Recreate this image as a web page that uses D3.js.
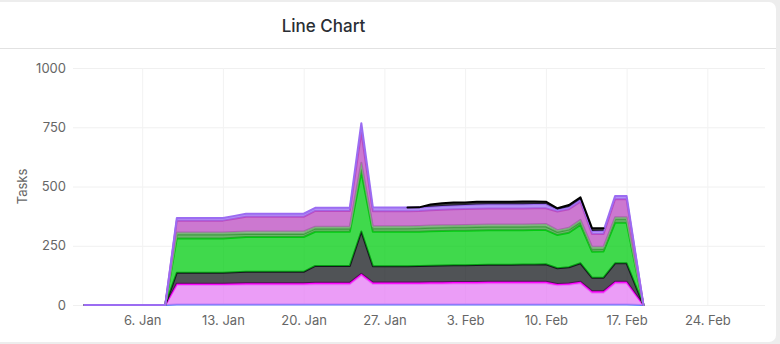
<!DOCTYPE html>
<html><head><meta charset="utf-8">
<script src="https://cdn.jsdelivr.net/npm/d3@7"></script>
<style>
html,body{margin:0;padding:0;background:#ededed;}
svg{display:block;}
</style></head><body>
<svg id="c" width="780" height="344"></svg>
<script>
// ---- data ----
const dates = [
"2025-01-01","2025-01-02","2025-01-03","2025-01-04","2025-01-05","2025-01-06","2025-01-07","2025-01-08",
"2025-01-09","2025-01-10","2025-01-11","2025-01-12","2025-01-13","2025-01-14","2025-01-15","2025-01-16",
"2025-01-17","2025-01-18","2025-01-19","2025-01-20","2025-01-21","2025-01-22","2025-01-23","2025-01-24",
"2025-01-25","2025-01-26","2025-01-27","2025-01-28","2025-01-29","2025-01-30","2025-01-31","2025-02-01",
"2025-02-02","2025-02-03","2025-02-04","2025-02-05","2025-02-06","2025-02-07","2025-02-08","2025-02-09",
"2025-02-10","2025-02-11","2025-02-12","2025-02-13","2025-02-14","2025-02-15","2025-02-16","2025-02-17",
"2025-02-18T11:00"];

const blueVals    = [0,0,0,0,0,0,0,0, 2,2,2,2,2,2,2,2, 2,2,2,2,2,2,2,2, 2,2,2,2,2,2,2,2, 2,2,2,2,2,2,2,2, 2,2,2,2,2,2,2,2, 0];
const pinkVals    = [0,0,0,0,0,0,0,0, 82,82,82,82,82,83,84,84, 84,84,84,84,86,86,86,86, 124,87,87,87,87,87,88,88, 89,89,89,90,90,90,90,90, 90,81,83,90,50,50,90,90, 0];
const magentaVals = [0,0,0,0,0,0,0,0, 6,6,6,6,6,6,6,6, 6,6,6,6,6,6,6,6, 6,6,6,6,6,6,6,6, 6,6,6,6,6,6,6,6, 6,6,6,6,6,6,6,6, 0];
const grayVals    = [0,0,0,0,0,0,0,0, 46,46,46,46,46,47,48,48, 48,48,48,48,71,71,71,71, 178,69,69,69,69,70,70,71, 71,71,72,72,72,72,73,73, 74,66,68,78,57,57,78,78, 0];
const greenVals   = [0,0,0,0,0,0,0,0, 145,145,145,145,145,146,147,147, 147,147,147,147,144,144,144,144, 250,145,145,145,145,144,145,145, 145,145,145,145,145,145,144,145, 144,140,146,162,110,111,171,171, 0];
const green2Vals  = [0,0,0,0,0,0,0,0, 16,16,16,16,16,15,13,13, 13,13,13,13,13,13,13,13, 25,14,14,14,14,15,15,15, 15,15,15,15,15,15,15,15, 15,13,13,12,10,10,15,15, 0];
const green3Vals  = [0,0,0,0,0,0,0,0, 9,9,9,9,9,9,10,10, 10,10,10,10,8,8,8,8, 15,9,9,9,9,9,9,9, 9,10,10,10,10,10,10,10, 11,8,8,9,11,10,8,8, 0];
const orchidVals  = [0,0,0,0,0,0,0,0, 50,50,50,50,50,56,62,62, 62,62,62,62,67,67,67,67, 128,64,64,64,64,64,65,66, 67,67,67,67,67,67,67,67, 66,78,78,77,54,54,76,76, 0];
const lavVals     = [0,0,0,0,0,0,0,0, 11,11,11,11,11,12,13,13, 13,13,13,13,13,13,13,13, 39,16,15,15,15,14,15,16, 16,17,18,18,18,18,18,18, 18,9,10,10,12,13,14,14, 0];
const blackVals   = [null,null,null,null,null,null,null,null, null,null,null,null,null,null,null,null,
                     null,null,null,null,null,null,null,null, null,null,null,null,0,1,9,11,
                     12,11,12,11,11,11,12,11, 10,5,8,8,12,11,null,null, null];

const seriesKeys   = ["blue","pink","magenta","gray","green","green2","green3","orchid","lav","black"];
const seriesColors = ["#5a78ff","#e47cf4","#ff00ff","#15191d","#00cc10","#3c9c3c","#78b078","#bb4bc0","#9b6cf2","#000000"];
const yTicks = [0,250,500,750,1000];
const xTicks = ["2025-01-06","2025-01-13","2025-01-20","2025-01-27","2025-02-03","2025-02-10","2025-02-17","2025-02-24"];
const xDomain = ["2024-12-31","2025-03-01"];
const title = "Line Chart";
const yTitle = "Tasks";

// ---- build ----
const parse = s => new Date(s.length > 10 ? s : s + "T00:00");
const valueArrays = [blueVals,pinkVals,magentaVals,grayVals,greenVals,green2Vals,green3Vals,orchidVals,lavVals,blackVals];
const rows = dates.map((d,i) => {
  const r = {date: parse(d)};
  seriesKeys.forEach((k,j) => r[k] = valueArrays[j][i]);
  return r;
});

const svg = d3.select("#c");
const plot = {l:73, r:765, t:68, b:305};
const font = "Inter, 'Noto Sans', sans-serif";

// card
svg.append("rect").attr("x",-20).attr("y",2).attr("width",796).attr("height",340)
  .attr("rx",7).attr("fill","#ffffff");
svg.append("line").attr("x1",0).attr("x2",776).attr("y1",48.5).attr("y2",48.5)
  .attr("stroke","#e2e2e2").attr("stroke-width",1);
svg.append("text").attr("x",323.5).attr("y",32).attr("text-anchor","middle")
  .attr("font-family",font).attr("font-size",17).attr("font-weight",500)
  .attr("fill","#2a2e34").text(title);

const x = d3.scaleTime().domain(xDomain.map(parse)).range([plot.l, plot.r]);
const y = d3.scaleLinear().domain([0,1000]).range([plot.b, plot.t]);

// grid
const gY = svg.append("g").attr("transform",`translate(${plot.l},0)`)
  .call(d3.axisLeft(y).tickValues(yTicks).tickSize(-(plot.r-plot.l)).tickFormat(""));
gY.select(".domain").remove();
gY.selectAll("line").attr("stroke","#f0f0f0");
const gX = svg.append("g").attr("transform",`translate(0,${plot.b})`)
  .call(d3.axisBottom(x).tickValues(xTicks.map(parse)).tickSize(-(plot.b-plot.t)).tickFormat(""));
gX.select(".domain").remove();
gX.selectAll("line").attr("stroke","#f2f2f2");

// stacked areas
const stack = d3.stack().keys(seriesKeys).value((d,k) => d[k] == null ? 0 : d[k]);
const layers = stack(rows);
const area = d3.area().x(d => x(d.data.date)).y0(d => y(d[0])).y1(d => y(d[1]));
const line = d3.line().x(d => x(d.data.date)).y(d => y(d[1]));

layers.forEach((L,i) => {
  const key = L.key;
  const def = d => d.data[key] != null;
  svg.append("path").attr("d", area.defined(def)(L))
    .attr("fill", seriesColors[i]).attr("fill-opacity", 0.75).attr("stroke","none");
  svg.append("path").attr("d", line.defined(def)(L))
    .attr("fill","none").attr("stroke", seriesColors[i]).attr("stroke-width",2)
    .attr("stroke-linejoin","round").attr("stroke-linecap","round");
});

// axis labels
const yAx = svg.append("g").attr("transform",`translate(${plot.l},0)`)
  .call(d3.axisLeft(y).tickValues(yTicks).tickSize(0).tickPadding(7).tickFormat(d3.format("d")));
yAx.select(".domain").remove();
yAx.selectAll("text").attr("font-family",font).attr("font-size",13).attr("fill","#666666");

const xAx = svg.append("g").attr("transform",`translate(0,${plot.b})`)
  .call(d3.axisBottom(x).tickValues(xTicks.map(parse)).tickSize(0).tickPadding(11)
    .tickFormat(d3.timeFormat("%-d. %b")));
xAx.select(".domain").remove();
xAx.selectAll("text").attr("font-family",font).attr("font-size",13).attr("fill","#666666");

svg.append("text").attr("transform",`translate(27,${(plot.t+plot.b)/2}) rotate(-90)`)
  .attr("text-anchor","middle").attr("font-family",font).attr("font-size",13)
  .attr("fill","#666666").text(yTitle);
</script>
</body></html>
